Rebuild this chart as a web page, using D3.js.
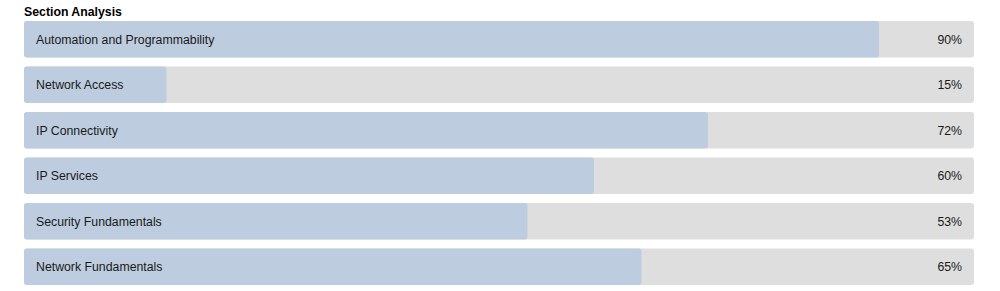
<!DOCTYPE html>
<html><head><meta charset="utf-8">
<script src="https://cdn.jsdelivr.net/npm/d3@7"></script>
<style>
html,body{margin:0;padding:0;background:#fff;}
svg{display:block;font-family:"Liberation Sans",Arial,sans-serif;}
</style></head>
<body>
<svg id="chart" width="1000" height="291"></svg>
<script>
const title = "Section Analysis";
const categories = ["Automation and Programmability","Network Access","IP Connectivity","IP Services","Security Fundamentals","Network Fundamentals"];
const values = [90,15,72,60,53,65];

(function(){
const svg = d3.select("#chart");
const mLeft = 24, mRight = 974, mTop = 21, mBottom = 285;
const x = d3.scaleLinear().domain([0,100]).range([mLeft,mRight]);
const y = d3.scaleBand().domain(categories).range([mTop,mBottom]).paddingInner(0.2).paddingOuter(0);
const fs = 12.3;

svg.append("text").attr("x",24).attr("y",15.5).attr("font-size",fs).attr("font-weight","bold").attr("fill","#000").text(title);

const g = svg.selectAll("g.row").data(categories).join("g").attr("class","row");
g.append("rect").attr("x",x(0)).attr("y",d=>y(d)).attr("width",x(100)-x(0)).attr("height",y.bandwidth())
  .attr("rx",3).attr("fill","#dedede");
g.append("rect").attr("x",x(0)).attr("y",d=>y(d)).attr("width",(d,i)=>x(values[i])-x(0)).attr("height",y.bandwidth())
  .attr("rx",3).attr("fill","#bdcddf");
g.append("text").attr("x",x(0)+12).attr("y",d=>y(d)+y.bandwidth()/2+4.6)
  .attr("font-size",fs).attr("fill","#1a1a1a").text(d=>d);
g.append("text").attr("x",x(100)-12).attr("y",d=>y(d)+y.bandwidth()/2+4.6)
  .attr("text-anchor","end").attr("font-size",fs).attr("fill","#1a1a1a").text((d,i)=>values[i]+"%");
})();
</script>
</body></html>
